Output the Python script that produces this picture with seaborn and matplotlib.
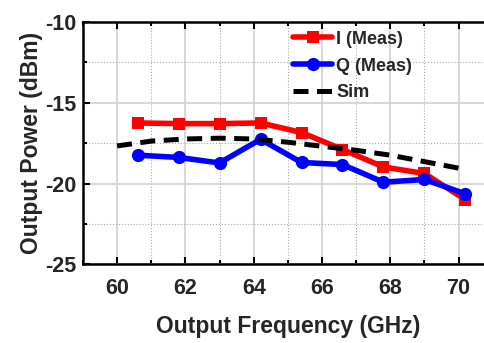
import matplotlib
matplotlib.use("Agg")
import matplotlib.pyplot as plt
import seaborn as sns
import pandas as pd
from matplotlib.ticker import MultipleLocator

# measured I / Q output power vs frequency
freq_meas = [60.6, 61.8, 63.0, 64.2, 65.4, 66.6, 67.8, 69.0, 70.2]
i_meas = [-16.26, -16.30, -16.30, -16.26, -16.85, -17.90, -18.98, -19.38, -21.0]
q_meas = [-18.25, -18.39, -18.73, -17.27, -18.70, -18.83, -19.92, -19.75, -20.64]

# simulation
freq_sim = [60, 61, 62, 63, 64, 65, 66, 67, 68, 69, 70]
p_sim = [-17.68, -17.38, -17.25, -17.20, -17.25, -17.45, -17.70, -17.95, -18.25, -18.65, -19.05]

sns.set_theme(style="white")
plt.rcParams["font.family"] = ["Liberation Sans", "DejaVu Sans"]
plt.rcParams["font.weight"] = "bold"
plt.rcParams["axes.unicode_minus"] = False

df_i = pd.DataFrame({"freq": freq_meas, "power": i_meas})
df_q = pd.DataFrame({"freq": freq_meas, "power": q_meas})
df_s = pd.DataFrame({"freq": freq_sim, "power": p_sim})

fig = plt.figure(figsize=(4.85, 3.43), dpi=100)
ax = fig.add_axes([0.171, 0.229, 0.845, 0.708])

sns.lineplot(data=df_i, x="freq", y="power", ax=ax, color="#ff0000", lw=4,
             marker="s", markersize=8.5, markeredgewidth=0, label="I (Meas)")
sns.lineplot(data=df_q, x="freq", y="power", ax=ax, color="#0000ff", lw=4,
             marker="o", markersize=9.5, markeredgewidth=0, label="Q (Meas)")
sns.lineplot(data=df_s, x="freq", y="power", ax=ax, color="black", lw=3.6,
             label="Sim")
ax.lines[-1].set_linestyle((0, (3.0, 1.7)))

ax.set_xlim(59, 71)
ax.set_ylim(-25, -10)
ax.xaxis.set_major_locator(MultipleLocator(2))
ax.xaxis.set_minor_locator(MultipleLocator(1))
ax.yaxis.set_major_locator(MultipleLocator(5))
ax.yaxis.set_minor_locator(MultipleLocator(2.5))
ax.grid(which="major", color="#d4d4d4", lw=1.3, ls="-")
ax.grid(which="minor", color="#aaaaaa", lw=0.8, ls=":")
ax.set_axisbelow(True)

ax.tick_params(which="both", direction="in", top=True, bottom=True, left=True,
               right=False, width=1.5, color="black")
ax.tick_params(which="major", length=5, labelsize=15.5)
ax.tick_params(axis="x", which="major", pad=10)
ax.tick_params(axis="y", which="major", pad=5)
ax.tick_params(which="minor", length=3)
for lab in ax.get_xticklabels() + ax.get_yticklabels():
    lab.set_fontweight("bold")
for s in ["left", "bottom", "top"]:
    ax.spines[s].set_color("black")
    ax.spines[s].set_linewidth(1.8)
ax.spines["right"].set_visible(False)

ax.set_xlabel("Output Frequency (GHz)", fontsize=16.5, fontweight="bold", labelpad=11)
ax.set_ylabel("Output Power (dBm)", fontsize=16.5, fontweight="bold", labelpad=1)

leg = ax.legend(loc="upper left", bbox_to_anchor=(0.49, 1.0), frameon=False,
                fontsize=13, handlelength=2.2, handletextpad=0.2,
                labelspacing=0.55, borderaxespad=0.1)
for t in leg.get_texts():
    t.set_fontweight("bold")

fig.savefig("out.png", dpi=100)
